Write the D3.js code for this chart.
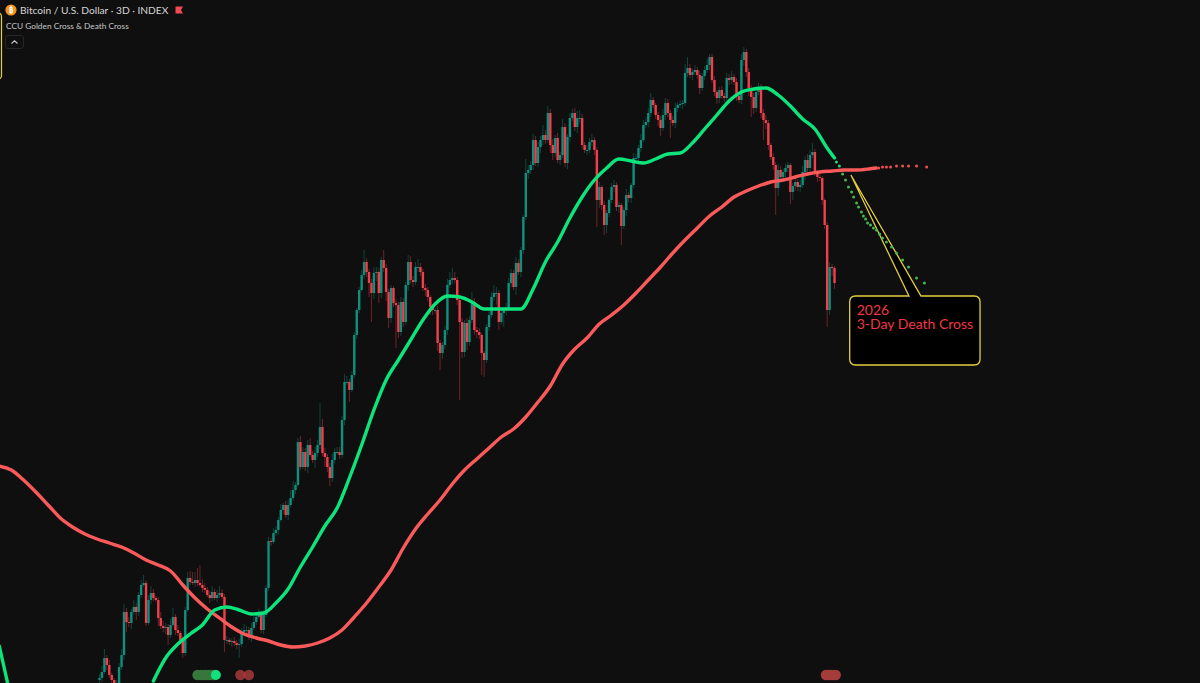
<!DOCTYPE html>
<html>
<head>
<meta charset="utf-8">
<script src="https://cdnjs.cloudflare.com/ajax/libs/d3/7.8.5/d3.min.js"></script>
<style>
html,body{margin:0;padding:0;background:#0f0f0f;overflow:hidden}
svg{display:block}
</style>
</head>
<body>
<div id="chart"></div>
<script>
// Chart levels are unitless: the reference has no price axis to read from.
const titleText = "Bitcoin / U.S. Dollar · 3D · INDEX";
const indicatorText = "CCU Golden Cross & Death Cross";
const noteLines = ["2026", "3-Day Death Cross"];

const firstOpen = 3;
const closes = [
5,11,25,18,8,3,-1,0,16,28,
71,61,60,71,76,71,88,98,100,60,
83,90,85,83,65,57,55,56,48,58,
66,53,50,43,30,73,105,101,100,103,
100,98,95,93,88,85,91,85,88,90,
86,43,43,41,42,40,38,39,51,53,
53,46,55,61,66,68,53,68,95,142,
141,150,153,163,173,178,168,178,185,193,
198,241,216,231,216,238,228,223,230,238,
256,230,226,216,205,223,231,231,228,263,
301,301,293,308,348,373,393,408,421,411,
400,390,410,411,390,423,415,391,365,395,
380,378,351,381,361,398,421,403,401,416,
416,411,395,393,386,376,373,373,340,330,
338,353,398,403,405,403,383,361,331,360,
341,363,381,353,351,348,330,323,356,368,
386,390,390,361,370,373,375,400,410,396,
420,411,433,466,510,513,518,543,520,536,
543,548,543,570,538,530,545,523,528,556,
520,546,565,570,556,565,565,538,533,533,
541,543,533,483,496,478,458,470,483,496,
498,476,478,457,473,488,485,498,525,525,
535,543,558,561,570,583,578,568,563,555,
568,580,570,563,560,575,578,579,580,610,
615,608,611,613,608,595,607,613,618,626,
603,591,585,593,587,585,605,603,606,601,
587,583,623,631,611,595,586,575,591,596,
570,563,560,538,526,518,495,513,506,511,
515,518,491,497,501,496,498,511,523,515,
528,531,511,506,505,483,458,373,416,415,
400];

const wickUp = [
4,6,9,3,5,2,2,3,4,6,
8,4,5,3,7,4,3,5,8,3,
5,7,4,2,3,6,5,4,3,6,
9,3,5,2,4,3,6,7,10,8,
12,18,6,5,3,4,6,3,5,7,
4,3,4,2,3,4,3,5,4,6,
4,3,5,6,4,6,4,5,3,4,
3,5,4,3,6,2,4,5,8,9,
3,4,6,5,4,5,7,4,6,5,
24,8,5,3,4,6,4,5,5,4,
8,6,3,4,3,2,3,5,12,4,
3,4,6,5,4,3,10,4,3,3,
2,4,3,5,4,3,7,6,4,5,
8,4,3,4,3,2,3,2,4,3,
3,4,6,8,10,6,3,2,4,3,
5,4,10,4,3,4,2,2,3,4,
5,8,6,3,4,3,5,5,4,3,
6,4,3,2,14,5,4,6,4,5,
4,10,5,7,4,6,3,5,3,8,
4,3,5,4,5,7,8,4,3,5,
4,6,3,3,5,2,4,3,2,4,
5,3,3,2,3,6,3,2,5,4,
3,6,5,4,5,7,3,2,3,4,
6,5,4,3,4,5,3,4,3,9,
11,4,3,5,3,4,3,4,6,3,
3,4,2,3,4,3,5,4,6,3,
4,3,6,5,3,4,3,4,6,4,
3,4,5,3,2,4,3,6,4,3,
4,3,2,3,4,3,5,6,4,6,
5,9,3,2,3,2,2,3,5,3,
2];

const wickDown = [
3,4,2,5,3,6,2,3,2,3,
5,10,4,6,3,8,4,3,2,3,
2,4,3,2,8,3,4,6,10,3,
2,5,3,4,5,3,2,3,2,4,
3,2,4,3,2,5,3,2,4,3,
2,12,4,3,5,3,4,13,3,2,
4,3,5,2,3,2,3,4,2,3,
4,2,3,5,2,4,3,5,2,3,
4,2,3,2,4,6,2,3,8,4,
4,3,10,5,8,4,3,2,4,3,
5,3,12,2,3,4,3,2,4,5,
14,29,6,8,10,5,4,9,10,5,
4,43,6,4,5,3,6,4,5,3,
5,4,3,6,4,8,5,4,8,17,
6,4,5,3,4,3,5,78,6,5,
8,4,3,5,6,4,22,17,3,4,
3,4,12,8,3,14,5,2,4,3,
8,3,5,4,3,6,4,5,3,4,
6,5,4,3,8,7,4,3,5,3,
4,6,5,3,4,6,5,4,3,5,
3,4,5,27,8,5,10,8,4,3,
5,4,6,19,3,6,4,5,3,4,
3,4,2,3,5,4,3,4,6,8,
3,5,4,18,3,5,4,3,5,3,
4,3,5,3,4,6,3,4,3,5,
3,4,6,5,3,4,3,5,4,3,
5,3,4,6,5,8,20,6,4,3,
5,20,6,5,3,5,27,8,3,5,
6,4,12,8,5,4,5,3,8,4,
5,3,4,5,3,5,4,17,5,8,
6];

// Moving averages, read every five bars
const maEvery = 5;
const fastStartBar = 22;
const fastLevels = [2,25,39,49,58,73,76,73,69,70,80,94,116,136,157,175,205,238,273,303,323,343,363,379,387,386,381,374,374,374,374,394,421,441,465,486,503,515,524,522,520,524,529,530,540,554,568,582,591,594,595,588,577,564,554,535];
const fastTail = [300, 525];
const fastEarlyBars = [-41, -37.5];
const fastEarlyLevels = [38, 0];
const slowStartBar = -41;
const slowLevels = [217,213,203,191,178,165,156,149,144,140,136,130,123,118,112,98,85,74,65,56,49,45,42,38,36,37,40,45,53,66,80,96,113,135,154,169,183,199,213,224,235,246,254,266,281,297,319,334,345,359,368,378,390,403,416,430,443,455,467,476,486,492,497,501,503,506,509,511,512,513,513,514];
const slowTail = [317, 515];

// Projected dots past the last bar
const fastDotBars = [300.8,302,303.3,304.5,305.7,307,307.8,309,309.8,311,311.8,312.7,313.5,314.7,315.9,317.1,318.4,319.6,321.2,323.3,325.3,327.8,330.2,333.5,336.7];
const fastDotLevels = [521,517,509,503,496,491,486,480,476,471,467,464,460,458,455,453,449,445,441,436,430,423,416,405,400];
const slowDotBars = [318,319.6,321.2,322.9,325.3,327.8,330.2,333.5,337.6];
const slowDotLevels = [515,516,516,516,517,517,517,517,516];

// Cross markers along the bottom, as bars
const goldenMarkBars = [40,41.5,43,44.5,46,47];
const goldenActiveBar = 47.5;
const deathMarkBarsA = [57.5,61];
const deathMarkBarsB = [296.5,297.5,298.5,299.5,300.5];
const markLevel = 8;

const W = 1200, H = 683;
const barPx = 2.45, firstBarPx = 99.5;
const x = d3.scaleLinear().domain([-firstBarPx/barPx, (W-firstBarPx)/barPx]).range([0, W]);
const y = d3.scaleLinear().domain([0, H]).range([H, 0]);

const UP = "#0f8f7c", DOWN = "#f23f4c";
const svg = d3.select("#chart").append("svg").attr("width", W).attr("height", H)
  .style("font-family", "Lato, 'Noto Sans', sans-serif");
svg.append("rect").attr("width", W).attr("height", H).attr("fill", "#0f0f0f");

const bars = closes.map((c, i) => {
  const o = i === 0 ? firstOpen : closes[i-1];
  return {i, o, c, hi: Math.max(o, c) + wickUp[i], lo: Math.min(o, c) - wickDown[i]};
});

const gWick = svg.append("g");
gWick.selectAll("line").data(bars).join("line")
  .attr("x1", d => x(d.i)).attr("x2", d => x(d.i))
  .attr("y1", d => y(d.hi)).attr("y2", d => y(d.lo))
  .attr("stroke", d => d.c >= d.o ? UP : DOWN)
  .attr("stroke-opacity", 0.42).attr("stroke-width", 1);

const gBody = svg.append("g");
gBody.selectAll("rect").data(bars).join("rect")
  .attr("x", d => x(d.i) - 1.2).attr("width", 2.4)
  .attr("y", d => y(Math.max(d.o, d.c)))
  .attr("height", d => Math.max(1, Math.abs(y(d.o) - y(d.c))))
  .attr("fill", d => d.c >= d.o ? UP : DOWN);

const line = d3.line().x(d => x(d[0])).y(d => y(d[1])).curve(d3.curveMonotoneX);
const fastPts = fastLevels.map((v, k) => [fastStartBar + k*maEvery, v]).concat([fastTail]);
const slowPts = slowLevels.map((v, k) => [slowStartBar + k*maEvery, v]).concat([slowTail]);
const FAST = "#0ce57c", SLOW = "#fa5a5a";

svg.append("path").datum(slowPts).attr("d", line).attr("fill", "none")
  .attr("stroke", SLOW).attr("stroke-width", 3.4).attr("stroke-linecap", "round");
svg.append("path").datum(fastPts).attr("d", line).attr("fill", "none")
  .attr("stroke", FAST).attr("stroke-width", 3.4).attr("stroke-linecap", "round");
svg.append("path").datum(fastEarlyBars.map((b, k) => [b, fastEarlyLevels[k]])).attr("d", line)
  .attr("fill", "none").attr("stroke", FAST).attr("stroke-width", 3.4);

// Callout
const tipBar = 306.7, tipLevel = 508, leftBar = 330.4, rightBar = 335.3, boxTop = 387, boxBottom = 318, boxLeft = 306.2, boxRight = 359.4;
const YEL = "#e3cf3c";
const r = 6;
const bx0 = x(boxLeft), bx1 = x(boxRight), by0 = y(boxTop), by1 = y(boxBottom);
svg.append("path").attr("fill", "#000").attr("stroke", YEL).attr("stroke-width", 1.3)
  .attr("d", `M${bx0+r},${by0} L${x(leftBar)},${by0} L${x(tipBar)},${y(tipLevel)} L${x(rightBar)},${by0} L${bx1-r},${by0} Q${bx1},${by0} ${bx1},${by0+r} L${bx1},${by1-r} Q${bx1},${by1} ${bx1-r},${by1} L${bx0+r},${by1} Q${bx0},${by1} ${bx0},${by1-r} L${bx0},${by0+r} Q${bx0},${by0} ${bx0+r},${by0} Z`);
svg.append("g").selectAll("text").data(noteLines).join("text")
  .attr("x", bx0 + 7).attr("y", (d, i) => by0 + 18.5 + i*14)
  .attr("fill", "#f23645").attr("font-size", 14).text(d => d);

// Projected dots
svg.append("g").selectAll("circle").data(fastDotBars).join("circle")
  .attr("cx", d => x(d)).attr("cy", (d, i) => y(fastDotLevels[i])).attr("r", 1.5)
  .attr("fill", (d, i) => i < 2 ? "#2fd47c" : "#45b653");
svg.append("g").selectAll("circle").data(slowDotBars).join("circle")
  .attr("cx", d => x(d)).attr("cy", (d, i) => y(slowDotLevels[i])).attr("r", 1.5)
  .attr("fill", "#f04e52");

// Bottom markers
svg.append("g").selectAll("circle").data(goldenMarkBars).join("circle")
  .attr("cx", d => x(d)).attr("cy", y(markLevel)).attr("r", 5.2).attr("fill", "#37773c");
svg.append("circle").attr("cx", x(goldenActiveBar)).attr("cy", y(markLevel)).attr("r", 5).attr("fill", "#12e07e");
svg.append("g").selectAll("circle").data(deathMarkBarsA).join("circle")
  .attr("cx", d => x(d)).attr("cy", y(markLevel)).attr("r", 5.2).attr("fill", "#c04040").attr("fill-opacity", .72);
svg.append("g").selectAll("circle").data(deathMarkBarsB).join("circle")
  .attr("cx", d => x(d)).attr("cy", y(markLevel)).attr("r", 5.2).attr("fill", "#a53c3c");

// Header
const head = svg.append("g");
head.append("rect").attr("x", -100).attr("y", 12.5).attr("width", 101.5).attr("height", 67).attr("rx", 4)
  .attr("fill", "none").attr("stroke", YEL).attr("stroke-width", 1.2);
head.append("circle").attr("cx", 11).attr("cy", 10).attr("r", 5.6).attr("fill", "#f7931a");
head.append("text").attr("x", 11).attr("y", 13).attr("text-anchor", "middle").attr("fill", "#fff")
  .attr("font-size", 8).attr("font-weight", 700).text("₿");
head.append("text").attr("x", 20).attr("y", 14).attr("fill", "#d6d6d6").attr("font-size", 10.2).text(titleText);
head.append("path").attr("d", "M175.5,6.5 H183 L181,10 L183,13.5 H175.5 Z").attr("fill", "#f04b50");
head.append("text").attr("x", 6).attr("y", 28.5).attr("fill", "#c8c8c8").attr("font-size", 8.3).text(indicatorText);
head.append("rect").attr("x", 5.5).attr("y", 35.5).attr("width", 18).attr("height", 13).attr("rx", 2.5)
  .attr("fill", "#0f0f0f").attr("stroke", "#262626");
head.append("path").attr("d", "M11.5,43.5 L14.5,40.8 L17.5,43.5").attr("fill", "none").attr("stroke", "#c8c8c8").attr("stroke-width", 1.1);
</script>
</body>
</html>
